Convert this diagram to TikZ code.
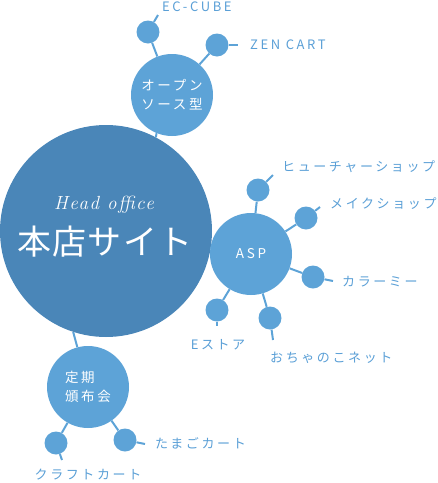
\documentclass[tikz,border=0pt]{standalone}
\usepackage{fontspec}
\usetikzlibrary{positioning}
\newfontfamily\tagfont[LetterSpace=20]{Noto Sans CJK JP}
\newfontfamily\hubfont[LetterSpace=4]{Noto Sans CJK JP}
\newfontfamily\headfont[LetterSpace=8]{Latin Modern Roman}
\definecolor{hubblue}{HTML}{4A86B8}
\definecolor{nodeblue}{HTML}{5DA3D7}
\definecolor{labelblue}{HTML}{5A9FD6}
\tikzset{
  hub/.style={circle, fill=hubblue, inner sep=0pt, minimum size=212pt},
  group/.style={circle, fill=nodeblue, inner sep=0pt, minimum size=82pt, text=white, align=left, font=\tagfont\fontsize{13.5}{19}\selectfont},
  leaf/.style={circle, fill=nodeblue, inner sep=0pt, minimum size=23pt},
  link/.style={draw=nodeblue, line width=2pt},
  tag/.style={text=labelblue, inner sep=0pt, font=\tagfont\fontsize{13}{16}\selectfont}
}

\begin{document}
\begin{tikzpicture}[x=1pt, y=-1pt]
      \useasboundingbox (0,0) rectangle (438,483);

      % hub and groups
      \node[hub] (honten) at (106,231) {};
      \node[text=white, inner sep=0pt, font=\headfont\itshape\fontsize{19}{21}\selectfont] (headoffice) at (104,205) {Head office};
      \node[text=white, inner sep=0pt, font=\hubfont\fontsize{34}{36}\selectfont] (hontenname) at (105,242) {本店サイト};
      \node[group] (oss) at (172,95) {オープン\\ソース型};
      \node[group] (asp) at (251,254) {ASP};
      \node[group] (teiki) at (88,387) {定期\\頒布会};

      \draw[link] (oss.248) -- (honten.62);
      \draw[link] (honten) -- (asp);
      \draw[link] (teiki.105) -- (honten.252);

      % leaves
      \node[leaf] (eccube) at (148,32) {};
      \node[leaf] (zencart) at (217,45) {};
      \node[leaf] (future) at (258,190) {};
      \node[leaf] (makeshop) at (306,218) {};
      \node[leaf] (colorme) at (313,277) {};
      \node[leaf] (estore) at (217,310) {};
      \node[leaf] (ochanoko) at (270,318) {};
      \node[leaf] (craft) at (56,443) {};
      \node[leaf] (tamago) at (125,440) {};

      \coordinate (eccube-end) at (158,15);
      \coordinate (zencart-end) at (238,45);
      \coordinate (future-end) at (273,175);
      \coordinate (makeshop-end) at (320,207);
      \coordinate (colorme-end) at (333,281);
      \coordinate (estore-end) at (217,326);
      \coordinate (ochanoko-end) at (273,340);
      \coordinate (craft-end) at (62,460);
      \coordinate (tamago-end) at (145,444);

      \foreach \leafname/\groupname in {eccube/oss, zencart/oss, future/asp, makeshop/asp, colorme/asp, estore/asp, ochanoko/asp, craft/teiki, tamago/teiki} {
        \draw[link] (\leafname) -- (\groupname);
        \draw[link] (\leafname) -- (\leafname-end);
      }

      % labels
      \node[tag, anchor=west] (eccube-tag) at (162,7) {EC-CUBE};
      \node[tag, anchor=west] (zencart-tag) at (250,45) {ZEN CART};
      \node[tag, anchor=west] (future-tag) at (282,167) {ヒューチャーショップ};
      \node[tag, anchor=west] (makeshop-tag) at (330,204) {メイクショップ};
      \node[tag, anchor=west] (colorme-tag) at (342,282) {カラーミー};
      \node[tag] (estore-tag) at (218,345) {Eストア};
      \node[tag, anchor=west] (ochanoko-tag) at (270,358) {おちゃのこネット};
      \node[tag] (craft-tag) at (88,475) {クラフトカート};
      \node[tag, anchor=west] (tamago-tag) at (155,443) {たまごカート};
    \end{tikzpicture}
\end{document}
